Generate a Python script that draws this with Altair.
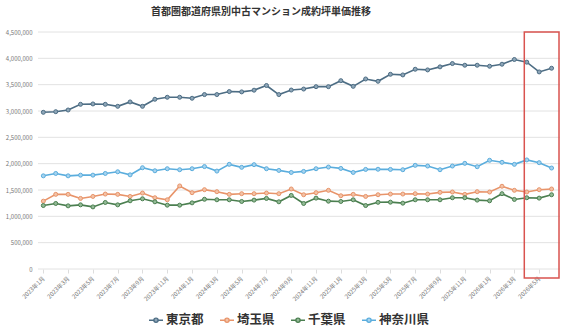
import altair as alt
import pandas as pd

# ---- data ----
prefectures = ["東京都", "埼玉県", "千葉県", "神奈川県"]

month_labels = [f"{y}年{m}月" for y in range(2023, 2027) for m in range(1, 13)][:42]
y_ticks = [0, 500000, 1000000, 1500000, 2000000, 2500000, 3000000, 3500000, 4000000, 4500000]

tokyo = [2975000, 2987000, 3019000, 3127000, 3134000, 3127000, 3089000, 3172000,
         3089000, 3223000, 3261000, 3261000, 3242000, 3312000, 3312000, 3369000,
         3363000, 3395000, 3484000, 3312000, 3398000, 3417000, 3462000, 3462000,
         3576000, 3468000, 3608000, 3564000, 3697000, 3685000, 3793000, 3780000,
         3838000, 3901000, 3869000, 3869000, 3850000, 3888000, 3978000, 3927000,
         3742000, 3812000]
saitama = [1288000, 1417000, 1417000, 1340000, 1378000, 1423000, 1417000, 1378000,
           1442000, 1353000, 1314000, 1577000, 1449000, 1506000, 1468000, 1417000,
           1430000, 1430000, 1442000, 1430000, 1519000, 1410000, 1449000, 1494000,
           1391000, 1417000, 1378000, 1410000, 1423000, 1423000, 1430000, 1423000,
           1455000, 1462000, 1417000, 1468000, 1462000, 1571000, 1494000, 1462000,
           1506000, 1519000]
chiba = [1205000, 1244000, 1199000, 1218000, 1179000, 1263000, 1218000, 1295000,
         1333000, 1276000, 1212000, 1212000, 1256000, 1324000, 1314000, 1314000,
         1282000, 1308000, 1340000, 1276000, 1397000, 1244000, 1346000, 1288000,
         1282000, 1314000, 1205000, 1266000, 1269000, 1250000, 1314000, 1314000,
         1314000, 1353000, 1353000, 1308000, 1295000, 1430000, 1321000, 1353000,
         1346000, 1410000]
kanagawa = [1769000, 1814000, 1769000, 1782000, 1782000, 1814000, 1846000, 1788000,
            1923000, 1865000, 1904000, 1885000, 1904000, 1945000, 1859000, 1987000,
            1930000, 1981000, 1904000, 1872000, 1833000, 1853000, 1904000, 1936000,
            1910000, 1833000, 1891000, 1894000, 1891000, 1885000, 1968000, 1955000,
            1885000, 1955000, 2006000, 1942000, 2064000, 2026000, 1987000, 2071000,
            2019000, 1917000]

# highlight box (month-index range and value range)
box_x = [38.8, 41.6]
box_y = [-170000, 4500000]

line_colors = ["#4d6d84", "#e8946a", "#4b7f50", "#5aaddd"]
fill_colors = ["#8ea6b8", "#f3c2a6", "#93ba96", "#a6d3ef"]

rows = []
for name, vals in zip(prefectures, [tokyo, saitama, chiba, kanagawa]):
    for i, v in enumerate(vals):
        rows.append({"idx": i, "month": month_labels[i], "pref": name, "value": v})
df = pd.DataFrame(rows)
box_df = pd.DataFrame({"idx": [box_x[0]], "idx2": [box_x[1]],
                       "value": [box_y[0]], "value2": [box_y[1]]})
grid_df = pd.DataFrame({"value": y_ticks})

label_array = "[" + ",".join(f"'{m}'" for m in month_labels) + "]"

x_scale = alt.Scale(domain=[-0.43, 41.68], nice=False, zero=False)
y_scale = alt.Scale(domain=[0, 4500000], nice=False, zero=True)

x_axis = alt.Axis(values=list(range(0, 42, 2)),
                  labelExpr=f"{label_array}[datum.value]",
                  labelAngle=315, labelAlign="right", labelBaseline="middle",
                  labelFontSize=6, labelColor="#777777", labelPadding=4,
                  labelOverlap=False,
                  grid=False, domain=False, ticks=True, tickSize=4,
                  tickColor="#dddddd")
y_axis = alt.Axis(values=y_ticks,
                  labelExpr="format(datum.value, ',')",
                  labelFontSize=6, labelColor="#777777", labelPadding=6,
                  labelOverlap=False,
                  domain=False, ticks=False, grid=False)

x_enc = alt.X("idx:Q", scale=x_scale, title=None, axis=x_axis)
y_enc = alt.Y("value:Q", scale=y_scale, title=None, axis=y_axis)

legend_path = ("M-1,0 L-0.3,0 M0.3,0 L1,0 "
               "M-0.3,0 A0.3,0.3 0 1,0 0.3,0 A0.3,0.3 0 1,0 -0.3,0")

color_scale = alt.Scale(domain=prefectures, range=line_colors)

grid = alt.Chart(grid_df).mark_rule(color="#e2e2e2", strokeWidth=1).encode(
    y=y_enc,
)

lines = alt.Chart(df).mark_line(strokeWidth=1.6).encode(
    x=x_enc, y=y_enc,
    color=alt.Color("pref:N", scale=color_scale, sort=prefectures, title=None,
                    legend=alt.Legend(orient="none", legendX=110, legendY=280,
                                      direction="horizontal",
                                      symbolType=legend_path, symbolSize=196,
                                      symbolStrokeWidth=1.4,
                                      labelFontSize=12.5, labelFontWeight="bold",
                                      labelColor="#333333", labelOffset=2,
                                      columnPadding=13)),
    order="idx:Q",
)

points = alt.Chart(df).mark_point(filled=True, size=16, strokeWidth=1, opacity=1).encode(
    x=x_enc, y=y_enc,
    fill=alt.Fill("pref:N", scale=alt.Scale(domain=prefectures, range=fill_colors), legend=None),
    stroke=alt.Stroke("pref:N", scale=color_scale, legend=None),
)

box = alt.Chart(box_df).mark_rect(fill="transparent", stroke="#d9534f", strokeWidth=1.5,
                                  clip=False).encode(
    x=x_enc, x2="idx2:Q",
    y=y_enc, y2="value2:Q",
)

chart = alt.layer(grid, lines, points, box).properties(
    width=522, height=237,
    title=alt.TitleParams("首都圏都道府県別中古マンション成約坪単価推移",
                          fontSize=10, fontWeight="bold", color="#333333",
                          anchor="middle", dx=-38, offset=12),
    autosize=alt.AutoSizeParams(type="none"),
    padding={"left": 38, "top": 32, "right": 7, "bottom": 66},
).configure(font="Noto Sans CJK JP").configure_view(stroke=None)

chart.save("out.html", embed_options={"renderer": "svg", "actions": False})
